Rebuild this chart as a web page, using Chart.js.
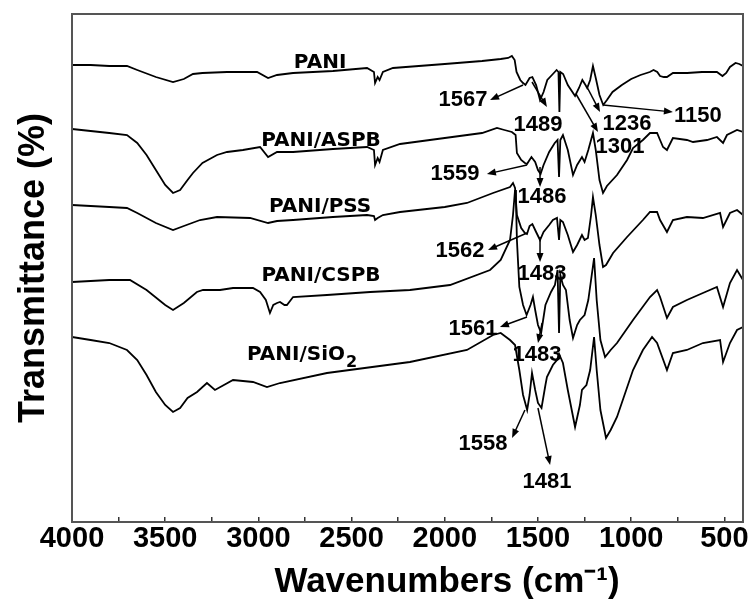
<!DOCTYPE html>
<html>
<head>
<meta charset="utf-8">
<script src="https://cdn.jsdelivr.net/npm/chart.js@4.4.0/dist/chart.umd.min.js"></script>
<style>
  html, body { margin: 0; padding: 0; background: #fff; }
</style>
</head>
<body>
<canvas id="c" width="750" height="607"></canvas>
<script>
// spectra: wavenumber (cm-1) and stacked transmittance (a.u.)
const paniWn = [4000,3900,3800,3705,3650,3550,3458,3400,3351,3300,3168,3050,3007,2948,2900,2814,2600,2417,2380,2374,2360,2350,2332,2278,2000,1800,1700,1660,1640,1625,1615,1595,1580,1567,1545,1530,1510,1489,1470,1450,1420,1400,1390,1385,1380,1365,1340,1301,1280,1262,1245,1236,1220,1205,1190,1170,1150,1130,1100,1050,1000,950,900,880,860,845,825,808,776,700,620,540,510,490,470,440,420,400];
const paniT = [457,457,456,456,452,445,440,443,448,449,450,450,450,444,447,449,451,454,450,439,445,442,450,454,458,461,463,464,466,462,450,442,439,437,444,445,437,422,430,442,448,452,450,410,450,448,437,426,434,442,437,434,442,456,444,427,417,422,430,437,443,447,450,452,450,446,445,445,449,449,450,450,446,449,455,459,458,456];

const aspbWn = [4000,3900,3800,3705,3650,3600,3550,3500,3458,3420,3380,3351,3300,3222,3168,3083,2991,2948,2900,2814,2600,2417,2380,2374,2360,2350,2332,2240,2000,1800,1720,1680,1640,1620,1613,1590,1570,1559,1535,1515,1500,1486,1470,1440,1410,1395,1387,1380,1366,1340,1312,1290,1264,1250,1230,1205,1190,1170,1151,1130,1076,1022,990,937,899,861,845,829,808,776,701,668,593,540,507,486,432,400];
const aspbT = [393,391,389,387,379,367,352,337,329,332,342,349,359,367,370,372,375,365,370,370,373,375,372,357,364,360,372,378,384,389,394,392,390,387,369,362,359,358,365,360,352,348,357,370,379,382,345,382,387,372,347,357,365,360,372,389,372,342,329,336,347,362,374,382,389,389,382,375,372,384,382,380,382,385,379,387,392,390];

const pssWn = [4000,3900,3800,3705,3650,3550,3458,3400,3313,3222,3045,2948,2900,2814,2600,2417,2380,2374,2360,2332,2240,2000,1881,1741,1650,1634,1623,1613,1590,1570,1559,1545,1530,1510,1489,1470,1440,1420,1398,1387,1380,1366,1340,1312,1290,1264,1250,1232,1215,1205,1190,1170,1151,1135,1097,1022,937,899,861,845,808,776,701,615,523,507,470,432,400];
const pssT = [317,316,315,314,309,299,292,296,302,305,304,299,301,302,305,307,306,302,304,307,310,315,319,329,335,339,334,307,294,289,288,296,298,290,282,290,297,302,304,282,302,300,287,270,277,287,282,284,307,325,307,277,255,257,269,285,302,310,310,302,290,302,305,304,309,295,309,312,307];

const cspbWn = [4000,3900,3800,3689,3600,3500,3458,3400,3330,3297,3206,3136,3029,2991,2960,2938,2920,2900,2884,2860,2847,2814,2632,2400,2187,1972,1757,1700,1650,1634,1623,1618,1613,1600,1580,1561,1540,1527,1515,1500,1483,1460,1430,1409,1395,1387,1380,1366,1350,1330,1312,1290,1275,1250,1230,1199,1185,1165,1140,1110,1076,990,899,861,845,808,776,701,615,540,507,470,432,400];
const cspbT = [240,241,242,242,232,217,212,219,230,232,232,234,234,230,222,209,217,219,220,217,217,225,227,230,232,237,252,262,282,307,332,322,282,235,217,207,217,225,212,197,189,217,230,237,252,189,247,237,232,202,184,197,202,207,222,264,222,182,165,172,179,202,225,232,225,204,215,222,229,235,215,239,252,242];

const sio2Wn = [4000,3900,3800,3705,3650,3600,3550,3500,3458,3420,3380,3329,3276,3233,3136,3029,2954,2884,2632,2187,1881,1741,1700,1650,1623,1600,1580,1558,1545,1532,1515,1500,1481,1460,1452,1420,1398,1387,1366,1340,1301,1275,1264,1240,1220,1199,1185,1165,1135,1110,1076,990,937,888,861,808,776,701,615,523,507,470,432,400];
const sio2T = [185,182,179,172,162,147,130,117,110,114,124,130,139,132,142,140,135,139,149,160,172,187,189,182,177,152,127,112,127,149,132,119,114,137,145,157,162,168,159,132,95,117,132,137,152,185,152,112,84,92,105,152,172,185,179,152,169,172,179,182,160,179,192,195];

const seriesNames = ['PANI', 'PANI/ASPB', 'PANI/PSS', 'PANI/CSPB', 'PANI/SiO2'];
const xTickLabels = [4000, 3500, 3000, 2500, 2000, 1500, 1000, 500];
const xTitle = 'Wavenumbers (cm\u207B\u00B9)';

// sample names placed next to each trace (wavenumber, offset)
const nameSpots = [[2669, 461], [2664, 383], [2669, 317], [2664, 248], [3061, 169]];

// band assignments: label centre, arrow tail on the trace, arrow head
const bands = [
  { text: '1567', at: [1902, 424], from: [1580, 437], to: [1757, 422] },
  { text: '1489', at: [1500, 399], from: [1532, 440], to: [1452, 415] },
  { text: '1236', at: [1022, 400], from: [1237, 435], to: [1167, 410] },
  { text: '1150', at: [642, 408],  from: [1151, 417], to: [776, 410] },
  { text: '1301', at: [1060, 377], from: [1296, 428], to: [1178, 390] },
  { text: '1559', at: [1945, 350], from: [1559, 357], to: [1774, 348] },
  { text: '1486', at: [1478, 327], from: [1489, 355], to: [1489, 335] },
  { text: '1562', at: [1918, 273], from: [1559, 289], to: [1768, 272] },
  { text: '1483', at: [1478, 250], from: [1489, 285], to: [1489, 260] },
  { text: '1561', at: [1849, 195], from: [1559, 205], to: [1704, 195] },
  { text: '1483', at: [1505, 169], from: [1478, 199], to: [1500, 179] },
  { text: '1558', at: [1795, 80],  from: [1570, 112], to: [1639, 84] },
  { text: '1481', at: [1452, 42],  from: [1500, 114], to: [1435, 57] }
];

const toPoints = (wn, t) => wn.map((w, i) => ({ x: w, y: t[i] }));
const allSeries = [[paniWn, paniT], [aspbWn, aspbT], [pssWn, pssT], [cspbWn, cspbT], [sio2Wn, sio2T]];

const datasets = allSeries.map((s, i) => ({
  label: seriesNames[i],
  data: toPoints(s[0], s[1]),
  borderColor: '#000',
  borderWidth: 1.8,
  pointRadius: 0,
  tension: 0,
  fill: false
}));

const arrow = (ctx, x1, y1, x2, y2) => {
  const ang = Math.atan2(y2 - y1, x2 - x1);
  const len = 9, half = 3.5;
  ctx.beginPath();
  ctx.moveTo(x1, y1);
  ctx.lineTo(x2 - Math.cos(ang) * len * 0.7, y2 - Math.sin(ang) * len * 0.7);
  ctx.stroke();
  ctx.beginPath();
  ctx.moveTo(x2, y2);
  ctx.lineTo(x2 - Math.cos(ang) * len - Math.sin(ang) * half, y2 - Math.sin(ang) * len + Math.cos(ang) * half);
  ctx.lineTo(x2 - Math.cos(ang) * len + Math.sin(ang) * half, y2 - Math.sin(ang) * len - Math.cos(ang) * half);
  ctx.closePath();
  ctx.fill();
};

const extras = {
  id: 'extras',
  afterDatasetsDraw(chart) {
    const { ctx, chartArea: a, scales: { x, y } } = chart;
    ctx.save();
    ctx.strokeStyle = '#555';
    ctx.lineWidth = 2;
    ctx.strokeRect(a.left, a.top, a.right - a.left, a.bottom - a.top);

    ctx.fillStyle = '#000';
    ctx.strokeStyle = '#000';
    ctx.lineWidth = 1.5;
    ctx.textAlign = 'center';
    ctx.textBaseline = 'alphabetic';

    // sample names
    ctx.font = 'bold 20px "DejaVu Sans"';
    nameSpots.forEach((p, i) => {
      const px = x.getPixelForValue(p[0]);
      const py = y.getPixelForValue(p[1]) + 7;
      if (i === 4) {
        ctx.textAlign = 'left';
        ctx.fillText('PANI/SiO', px, py);
        const w = ctx.measureText('PANI/SiO').width;
        ctx.font = 'bold 16px "DejaVu Sans"';
        ctx.fillText('2', px + w + 1, py + 7);
        ctx.textAlign = 'center';
        ctx.font = 'bold 20px "DejaVu Sans"';
      } else {
        ctx.fillText(seriesNames[i], px, py);
      }
    });

    // band labels and arrows
    ctx.font = 'bold 22px "Liberation Sans"';
    bands.forEach(b => {
      ctx.fillText(b.text, x.getPixelForValue(b.at[0]), y.getPixelForValue(b.at[1]) + 8);
      arrow(ctx, x.getPixelForValue(b.from[0]), y.getPixelForValue(b.from[1]),
                 x.getPixelForValue(b.to[0]), y.getPixelForValue(b.to[1]));
    });

    // x axis title sits right of the plot centre in the original
    ctx.font = 'bold 35px "Liberation Sans"';
    ctx.textBaseline = 'middle';
    ctx.fillText(xTitle, 447, 582);
    ctx.restore();
  }
};

const config = {
  type: 'line',
  data: { datasets: datasets },
  options: {
    responsive: false,
    animation: false,
    layout: { padding: { top: 14, right: 7, left: 0, bottom: 0 } },
    plugins: { legend: { display: false }, tooltip: { enabled: false } },
    scales: {
      x: {
        type: 'linear',
        reverse: true,
        min: 400,
        max: 4000,
        afterFit: s => { s.height = 85; s.paddingLeft = 0; s.paddingRight = 0; },
        border: { display: false },
        grid: { drawOnChartArea: false, drawTicks: true, tickLength: -5, color: '#333', lineWidth: 1.5 },
        ticks: {
          stepSize: 250,
          includeBounds: false,
          autoSkip: false,
          maxRotation: 0,
          padding: 5,
          color: '#000',
          font: { family: '"Liberation Sans", Arial', size: 29, weight: 'bold' },
          callback: v => xTickLabels.includes(v) ? String(v) : ''
        },
        title: { display: false }
      },
      y: {
        min: 0,
        max: 508,
        afterFit: s => { s.width = 72; },
        border: { display: false },
        grid: { display: false },
        ticks: { display: false },
        title: {
          display: true,
          text: 'Transmittance (%)',
          color: '#000',
          font: { family: '"Liberation Sans", Arial', size: 36, weight: 'bold' },
          padding: { top: 12, bottom: 0 }
        }
      }
    }
  },
  plugins: [extras]
};

const chart = new Chart(document.getElementById('c'), config);
</script>
</body>
</html>
